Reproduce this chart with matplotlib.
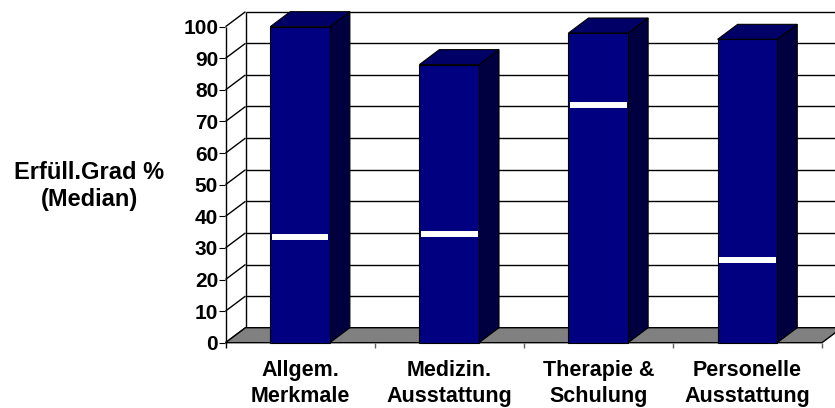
import matplotlib
matplotlib.use("Agg")
import matplotlib.pyplot as plt
from matplotlib.patches import Polygon

# Chart data
categories = ["Allgem.\nMerkmale", "Medizin.\nAusstattung", "Therapie &\nSchulung", "Personelle\nAusstattung"]
bar_values = [100, 88, 98, 96]
median_values = [33.3, 34.4, 75.1, 26.1]
y_ticks = list(range(0, 101, 10))
y_label = "Erfüll.Grad %\n(Median)"

# Styling
FRONT = "#000080"
TOP = "#000066"
SIDE = "#000040"
FLOOR = "#808080"
BAR_W = 0.4

plt.rcParams["font.family"] = ["Liberation Sans", "DejaVu Sans"]
plt.rcParams["font.weight"] = "bold"

W, H = 835, 408
fig = plt.figure(figsize=(W / 100, H / 100), dpi=100)
ax = fig.add_axes([225.5 / W, (H - 342.7) / H, 596.5 / W, 316 / H])

n = len(categories)
x0, x1 = -0.5, n - 0.5
ymin, ymax = y_ticks[0], y_ticks[-1]
ax.set_xlim(x0, x1)
ax.set_ylim(ymin, ymax)
for s in ax.spines.values():
    s.set_visible(False)
ax.patch.set_visible(False)

# 3-D depth offset expressed in data units
dx = 20 / 596.5 * n
dy = 15 / 316 * (ymax - ymin)
drop = 5 / 316 * (ymax - ymin)

kw = dict(clip_on=False, solid_capstyle="butt")

# back wall grid + edges
for v in y_ticks:
    ax.plot([x0 + dx, x1 + dx], [v + dy, v + dy], color="black", lw=1.0, zorder=1, **kw)
ax.plot([x0 + dx, x0 + dx], [ymin + dy, ymax + dy], color="black", lw=1.0, zorder=1, **kw)

# side wall: diagonal tick lines from front axis to back wall
for v in y_ticks:
    ax.plot([x0, x0 + dx], [v, v + dy], color="black", lw=1.0, zorder=1, **kw)

# floor
floor = Polygon([(x0, ymin), (x1, ymin), (x1 + dx, ymin + dy), (x0 + dx, ymin + dy)],
                closed=True, facecolor=FLOOR, edgecolor="black", lw=1.0,
                zorder=2, clip_on=False)
ax.add_patch(floor)

# front value axis
ax.plot([x0, x0], [ymin - drop, ymax], color="black", lw=1.0, zorder=2, **kw)
# category separators below the floor
for b in range(1, n + 1):
    xb = x0 + b
    ax.plot([xb, xb], [ymin, ymin - drop], color="#606060", lw=1.0, zorder=2, **kw)

# 3-D columns
for i, (v, m) in enumerate(zip(bar_values, median_values)):
    l, r = i - BAR_W / 2, i + BAR_W / 2
    side = Polygon([(r, ymin), (r + dx, ymin + dy), (r + dx, v + dy), (r, v)],
                   closed=True, facecolor=SIDE, edgecolor="black", lw=0.8, zorder=3)
    top = Polygon([(l, v), (l + dx, v + dy), (r + dx, v + dy), (r, v)],
                  closed=True, facecolor=TOP, edgecolor="black", lw=0.8, zorder=3)
    front = Polygon([(l, ymin), (r, ymin), (r, v), (l, v)],
                    closed=True, facecolor=FRONT, edgecolor="black", lw=0.8, zorder=4)
    for p in (side, top, front):
        p.set_clip_on(False)
        ax.add_patch(p)
    inset = 0.01
    ax.plot([l + inset, r - inset], [m, m], color="white", lw=4.3, zorder=5, **kw)

# ticks and labels
ax.set_yticks(y_ticks)
ax.set_yticklabels([str(t) for t in y_ticks])
ax.tick_params(axis="y", length=4.3, width=0.8, pad=1, labelsize=15, colors="black")
ax.set_xticks(range(n))
ax.set_xticklabels(categories)
ax.tick_params(axis="x", length=0, pad=12.5, labelsize=15.5)
for lab in ax.get_xticklabels():
    lab.set_linespacing(1.3)

fig.text(89 / W, 1 - 186 / H, y_label, ha="center", va="center",
         fontsize=17, fontweight="bold", linespacing=1.25)

fig.savefig("out.png", dpi=100)
